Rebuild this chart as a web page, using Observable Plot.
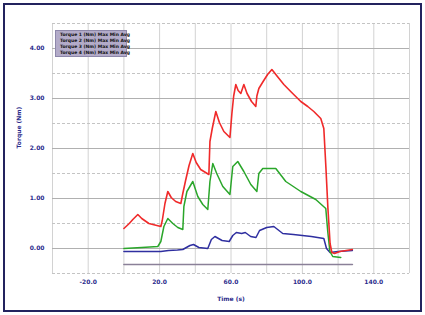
<!DOCTYPE html>
<html>
<head>
<meta charset="utf-8">
<script src="https://cdn.jsdelivr.net/npm/d3@7"></script>
<script src="https://cdn.jsdelivr.net/npm/@observablehq/plot@0.6"></script>
<style>
  html, body { margin: 0; padding: 0; background: #fff; }
  #wrap { position: relative; width: 425px; height: 315px; overflow: hidden; }
  #border { position: absolute; left: 3px; top: 3px; width: 415px; height: 305px; border: 2px solid #23235e; pointer-events: none; }
  #legend { position: absolute; left: 55px; top: 30px; width: 72px; height: 27px; background: #b3abc9; border: 1px solid #8d87aa;
            font-family: "DejaVu Sans", sans-serif; font-size: 4.5px; font-weight: bold; color: #111; line-height: 6px; padding: 1px 1px; box-sizing: border-box; }
  #legend .row { display: flex; align-items: center; height: 6px; white-space: nowrap; }
  #legend .sw { display: inline-block; width: 10px; height: 3px; margin-right: 3px; }
</style>
</head>
<body>
<div id="wrap">
  <div id="chart"></div>
  <div id="legend"></div>
  <div id="border"></div>
</div>
<script>
// ---- data ----
const seriesNames = ["Torque 1 (Nm)", "Torque 2 (Nm)", "Torque 3 (Nm)", "Torque 4 (Nm)"];
const seriesColors = ["#f02a2a", "#2f2fa0", "#2aa62a", "#8a8098"];

const redX = [0,3,5,7.8,10,14,20.7,21.5,23,24.6,26.5,29,31.9,33,34.5,36.5,38.6,40.5,43,47.6,48.2,49.5,51.5,53.5,56,59.4,60.5,61.5,62.7,64,65.5,67.2,69,71.5,73.9,74.5,75.6,78,80.5,82.9,86,89.6,94,99.1,103,106.4,110.3,112,113.2,114.3,115.5,116.5,118,121,128];
const redY = [0.40,0.50,0.58,0.68,0.60,0.50,0.44,0.56,0.90,1.14,1.02,0.94,0.90,1.10,1.35,1.66,1.90,1.72,1.58,1.48,2.14,2.40,2.74,2.52,2.34,2.22,2.70,3.05,3.28,3.16,3.10,3.28,3.10,2.94,2.84,3.05,3.20,3.34,3.48,3.58,3.44,3.28,3.12,2.94,2.84,2.74,2.60,2.40,1.60,0.80,0.10,-0.08,-0.10,-0.06,-0.02];

const greenX = [0,10,19,20.7,22.4,24.6,27.4,30.2,33,33.6,35.3,38.6,41.4,44.2,47,48.2,49.8,52,55.4,59.4,61,63.8,67.2,71.1,74.5,75.6,77.8,85.1,90.7,99.1,107.5,113.1,114.2,115.4,117,121.5];
const greenY = [0.00,0.02,0.04,0.14,0.44,0.60,0.50,0.42,0.38,0.84,1.14,1.34,1.04,0.88,0.78,1.34,1.70,1.50,1.24,1.08,1.64,1.74,1.54,1.28,1.14,1.50,1.60,1.60,1.34,1.14,0.98,0.80,0.34,-0.06,-0.16,-0.18];

const blueX = [0,10,20.7,25,30,33,37,39,42,47,49,51,55,59,61,63,66,68,71,74,76,80,84,89,95,105,112,113.5,115.5,120,128];
const blueY = [-0.06,-0.06,-0.06,-0.04,-0.03,-0.02,0.06,0.08,0.02,0.00,0.18,0.24,0.16,0.14,0.26,0.32,0.30,0.32,0.24,0.22,0.36,0.42,0.44,0.30,0.28,0.24,0.20,0.00,-0.08,-0.06,-0.04];

const grayX = [0, 128];
const grayY = [-0.32, -0.32];

const xTicks = [-20, 20, 60, 100, 140];
const xGrid = [-40, -20, 0, 20, 40, 60, 80, 100, 120, 140, 160];
const yTicks = [0, 1, 2, 3, 4];
const yGridMinor = [-0.5, 0.5, 1.5, 2.5, 3.5, 4.5];

const xTitle = "Time (s)";
const yTitle = "Torque (Nm)";

// ---- build ----
const toRows = (xs, ys, name) => xs.map((x, i) => ({x, y: ys[i], name}));
const red = toRows(redX, redY, seriesNames[0]);
const blue = toRows(blueX, blueY, seriesNames[1]);
const green = toRows(greenX, greenY, seriesNames[2]);
const gray = toRows(grayX, grayY, seriesNames[3]);

const chart = Plot.plot({
  width: 425,
  height: 315,
  marginLeft: 52,
  marginRight: 16,
  marginTop: 23,
  marginBottom: 42,
  x: {domain: [-40, 160]},
  y: {domain: [-0.5, 4.5]},
  style: {fontFamily: "DejaVu Sans, sans-serif", fontSize: "6px", fontWeight: "bold", color: "#2c2c8c", background: "white"},
  marks: [
    Plot.ruleX(xGrid, {stroke: "#d2d2d2", strokeWidth: 1}),
    Plot.ruleY(yGridMinor, {stroke: "#c4c4c4", strokeWidth: 1, strokeDasharray: "3,2"}),
    Plot.ruleY(yTicks, {stroke: "#b0b0b0", strokeWidth: 1.2}),
    Plot.axisX({ticks: xTicks, tickSize: 0, tickPadding: 6, tickFormat: d => d.toFixed(1), label: null}),
    Plot.axisY({ticks: yTicks, tickSize: 0, tickPadding: 8, tickFormat: d => d.toFixed(2), label: null}),
    Plot.text([xTitle], {frameAnchor: "bottom", dy: 27, fill: "#2c2c8c"}),
    Plot.text([yTitle], {frameAnchor: "left", rotate: -90, dx: -33, fill: "#2c2c8c"}),
    Plot.line(gray, {x: "x", y: "y", stroke: seriesColors[3], strokeWidth: 1.6}),
    Plot.line(blue, {x: "x", y: "y", stroke: seriesColors[1], strokeWidth: 1.5}),
    Plot.line(green, {x: "x", y: "y", stroke: seriesColors[2], strokeWidth: 1.5}),
    Plot.line(red, {x: "x", y: "y", stroke: seriesColors[0], strokeWidth: 1.6})
  ]
});
document.getElementById("chart").append(chart);

const legend = document.getElementById("legend");
[0, 1, 2, 3].forEach(i => {
  const row = document.createElement("div");
  row.className = "row";
  const sw = document.createElement("span");
  sw.className = "sw";
  sw.style.background = seriesColors[i];
  row.append(sw);
  row.append(document.createTextNode(seriesNames[i] + "  Max  Min  Avg"));
  legend.append(row);
});
</script>
</body>
</html>
